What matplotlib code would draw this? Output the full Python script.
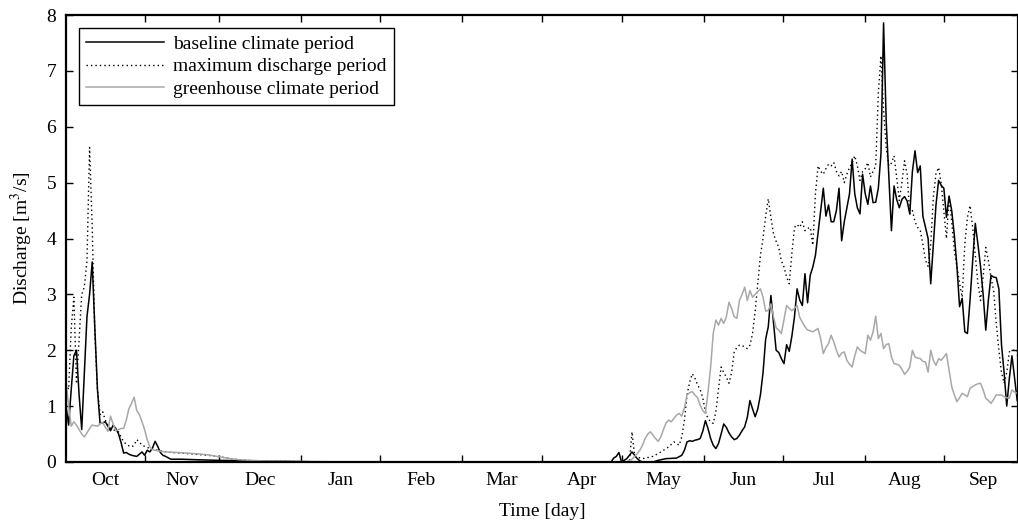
import matplotlib
matplotlib.use("Agg")
import matplotlib.pyplot as plt
import numpy as np

# daily discharge [m3/s], day 0 = 1 Oct
baseline_day = [0, 1, 2, 3, 4, 5, 6, 7, 8, 9, 10, 11, 12, 13, 14, 15, 16, 17, 18, 19,
                20, 21, 22, 23, 24, 25, 26, 27, 28, 29, 30, 31, 32, 33, 34, 35, 36, 37, 38, 40,
                44, 50, 58, 70, 85, 100, 208, 209, 210, 211, 212, 213, 214, 215, 216, 217, 218, 219, 220, 224,
                226, 229, 233, 235] + list(range(236, 365))
baseline_q = [1.0, 0.66, 1.3, 1.9, 2.0, 1.2, 0.58, 1.6, 2.6, 3.0, 3.58, 2.4, 1.3, 0.69, 0.7, 0.72, 0.64, 0.56, 0.66, 0.6,
              0.51, 0.35, 0.16, 0.17, 0.14, 0.12, 0.11, 0.1, 0.14, 0.18, 0.12, 0.21, 0.18, 0.25, 0.37, 0.28, 0.17, 0.12, 0.1, 0.05,
              0.05, 0.04, 0.03, 0.02, 0.01, 0.0, 0.0, 0.07, 0.1, 0.17, 0.0, 0.03, 0.06, 0.12, 0.18, 0.12, 0.06, 0.02, 0.0, 0.0,
              0.03, 0.06, 0.07, 0.12,
              # 236 ..
              0.21, 0.36, 0.38, 0.37, 0.39, 0.4, 0.42, 0.55, 0.74, 0.6,
              0.42, 0.3, 0.24, 0.33, 0.5, 0.68, 0.62, 0.52, 0.45, 0.4,
              0.42, 0.48, 0.56, 0.63, 0.8, 1.1, 0.95, 0.81, 0.95, 1.2,
              1.6, 2.2, 2.42, 2.98, 2.48, 2.0, 1.96, 1.85, 1.76, 2.1,
              1.98, 2.25, 2.6, 3.1, 2.9, 2.8, 3.37, 2.85, 3.34, 3.49,
              3.7, 4.1, 4.5, 4.9, 4.4, 4.6, 4.3, 4.3, 4.5, 4.9,
              3.96, 4.3, 4.55, 4.8, 5.42, 4.8, 4.55, 4.44, 5.15, 4.8,
              4.61, 4.94, 4.64, 4.65, 4.9, 5.51, 7.86, 6.1, 5.1, 4.14,
              4.94, 4.7, 4.55, 4.7, 4.75, 4.67, 4.44, 5.2, 5.57, 5.18,
              5.3, 4.4, 4.2, 4.0, 3.19, 3.9, 4.6, 5.04, 4.95, 4.9,
              4.38, 4.76, 4.5, 4.06, 3.5, 2.78, 2.93, 2.33, 2.3, 2.9,
              3.6, 4.27, 3.9, 3.5, 3.0, 2.36, 2.9, 3.34, 3.31, 3.3,
              3.1, 2.1, 1.6, 1.0, 1.5, 1.9, 1.5, 1.1, 1.0]

maximum_day = [0, 1, 2, 3, 4, 5, 6, 7, 8, 9, 10, 11, 12, 13, 14, 15, 16, 17, 18, 19,
               20, 21, 22, 23, 24, 25, 26, 27, 28, 29, 30, 31, 33, 36, 40, 44, 49, 54, 58, 64,
               72, 85, 100, 215, 216, 217, 220, 224, 227, 230, 232, 234] + list(range(235, 365))
maximum_q = [1.4, 1.3, 2.4, 2.95, 1.4, 2.2, 3.0, 3.13, 3.6, 5.63, 4.2, 2.3, 1.3, 0.85, 0.9, 0.75, 0.66, 0.6, 0.58, 0.56,
             0.54, 0.45, 0.36, 0.32, 0.29, 0.27, 0.3, 0.4, 0.36, 0.3, 0.28, 0.26, 0.23, 0.2, 0.17, 0.16, 0.14, 0.12, 0.1, 0.05,
             0.02, 0.01, 0.0, 0.0, 0.54, 0.1, 0.06, 0.1, 0.18, 0.27, 0.36, 0.3,
             # 235 ..
             0.45, 0.75, 1.2, 1.43, 1.58, 1.5, 1.38, 1.3, 1.15, 0.9,
             0.78, 0.72, 0.69, 0.9, 1.3, 1.7, 1.6, 1.52, 1.41, 1.6,
             1.97, 2.05, 2.09, 2.09, 2.05, 2.03, 2.09, 2.3, 2.7, 3.19,
             3.7, 4.0, 4.4, 4.71, 4.38, 4.08, 3.95, 3.84, 3.6, 3.49,
             3.31, 3.19, 3.73, 4.2, 4.25, 4.2, 4.3, 4.14, 4.18, 4.2,
             3.88, 4.8, 5.3, 5.2, 5.15, 5.25, 5.33, 5.3, 5.36, 5.2,
             5.12, 5.2, 5.0, 5.15, 5.27, 5.35, 5.48, 5.3, 5.04, 5.2,
             5.25, 5.36, 5.1, 5.2, 5.3, 6.6, 7.27, 6.3, 5.63, 5.3,
             5.35, 5.48, 5.1, 4.68, 5.0, 5.39, 5.15, 4.44, 4.5, 4.3,
             4.2, 4.14, 3.9, 3.61, 3.5, 3.9, 4.74, 5.16, 5.27, 4.98,
             4.5, 4.0, 4.74, 4.3, 3.79, 3.5, 3.2, 2.95, 3.9, 4.38,
             4.59, 4.2, 3.7, 3.2, 2.89, 3.31, 3.84, 3.6, 3.3, 3.07,
             2.48, 2.0, 1.6, 1.41, 1.6, 1.97, 2.0, 2.0, 2.0, 1.05]

greenhouse_day = [0, 1, 2, 3, 4, 5, 6, 7, 8, 9, 10, 11, 12, 13, 14, 15, 16, 17, 18, 19,
                  20, 21, 22, 23, 24, 25, 26, 27, 28, 29, 30, 31, 32, 33, 35, 38, 43, 49, 54, 60,
                  66, 75, 90, 110, 214, 216, 218] + list(range(219, 365))
greenhouse_q = [1.43, 1.0, 0.64, 0.72, 0.66, 0.58, 0.5, 0.45, 0.52, 0.6, 0.66, 0.65, 0.64, 0.68, 0.71, 0.62, 0.55, 0.82, 0.68, 0.56,
                0.58, 0.6, 0.6, 0.75, 0.95, 1.05, 1.16, 0.92, 0.85, 0.72, 0.58, 0.4, 0.27, 0.22, 0.2, 0.18, 0.17, 0.15, 0.13, 0.08,
                0.04, 0.02, 0.01, 0.0, 0.0, 0.05, 0.15,
                # 219 ..
                0.21, 0.3, 0.42, 0.5, 0.54, 0.48, 0.42, 0.37, 0.45, 0.58,
                0.7, 0.75, 0.72, 0.78, 0.84, 0.87, 0.82, 0.97, 1.2, 1.24,
                1.26, 1.2, 1.15, 1.02, 0.92, 0.87, 1.25, 1.7, 2.3, 2.54,
                2.45, 2.57, 2.48, 2.6, 2.86, 2.75, 2.6, 2.57, 2.89, 3.0,
                3.13, 2.89, 3.07, 2.95, 3.0, 3.05, 3.1, 2.95, 2.7, 2.71,
                2.83, 2.6, 2.4, 2.36, 2.3, 2.55, 2.8, 2.75, 2.71, 2.75,
                2.8, 2.59, 2.5, 2.42, 2.36, 2.35, 2.33, 2.36, 2.39, 2.2,
                1.94, 2.05, 2.12, 2.27, 2.15, 2.0, 1.88, 1.95, 1.97, 1.82,
                1.75, 1.7, 1.9, 2.06, 2.0, 1.97, 1.94, 2.27, 2.18, 2.33,
                2.61, 2.21, 2.3, 2.03, 2.1, 2.12, 1.88, 1.76, 1.75, 1.73,
                1.66, 1.57, 1.62, 1.7, 2.0, 1.88, 1.86, 1.85, 1.8, 1.79,
                1.61, 2.0, 1.82, 1.73, 1.85, 1.82, 1.88, 1.94, 1.64, 1.35,
                1.2, 1.08, 1.15, 1.23, 1.2, 1.17, 1.32, 1.35, 1.38, 1.4,
                1.41, 1.29, 1.14, 1.1, 1.05, 1.12, 1.2, 1.2, 1.2, 1.17,
                1.15, 1.14, 1.29, 1.25, 1.23, 1.3]

months = ["Oct", "Nov", "Dec", "Jan", "Feb", "Mar", "Apr", "May", "Jun", "Jul", "Aug", "Sep"]
month_edges = [0, 30.3, 58.4, 89.8, 119.8, 151, 181.6, 212.2, 243.5, 273.6, 304.9, 334.9, 365]

plt.rcParams['font.family'] = ['Liberation Serif', 'DejaVu Serif']
plt.rcParams['mathtext.fontset'] = 'stix'
FS = 14

fig = plt.figure(figsize=(10.18, 5.24), dpi=100)
ax = fig.add_axes([66 / 1018, 62 / 524, 952 / 1018, 447 / 524])

ax.plot(baseline_day, baseline_q, color='black', lw=1.1, label='baseline climate period')
ax.plot(maximum_day, maximum_q, color='black', lw=1.0, ls=(0, (1, 2.2)), label='maximum discharge period')
ax.plot(greenhouse_day, greenhouse_q, color='#a8a8a8', lw=1.1, label='greenhouse climate period')

ax.set_xlim(0, 363.3)
ax.set_ylim(0, 8)

# month boundaries as ticks, names centred between them
ax.set_xticks(month_edges[1:-1])
ax.set_xticklabels([])
centres = [(a + b) / 2 for a, b in zip(month_edges[:-1], month_edges[1:])]
ax.set_xticks(centres, minor=True)
ax.set_xticklabels(months, minor=True, fontsize=FS)
ax.tick_params(axis='x', which='minor', length=0, pad=7)
ax.tick_params(axis='x', which='major', direction='in', length=5, width=1, top=True)
ax.set_yticks(range(0, 9))
ax.tick_params(axis='y', direction='in', length=5, width=1, right=True, labelsize=FS, pad=7)

for s in ax.spines.values():
    s.set_linewidth(1.6)

ax.set_xlabel('Time [day]', fontsize=FS, labelpad=10)
ax.set_ylabel('Discharge [m$^3$/s]', fontsize=FS, labelpad=8)

leg = ax.legend(loc='upper left', bbox_to_anchor=(0.0137, 0.971), borderaxespad=0,
                fontsize=FS, fancybox=False, edgecolor='black', framealpha=1,
                handlelength=4.0, handletextpad=0.45, labelspacing=0.25, borderpad=0.38)
leg.get_frame().set_linewidth(1.0)

fig.savefig('out.png', dpi=100)
